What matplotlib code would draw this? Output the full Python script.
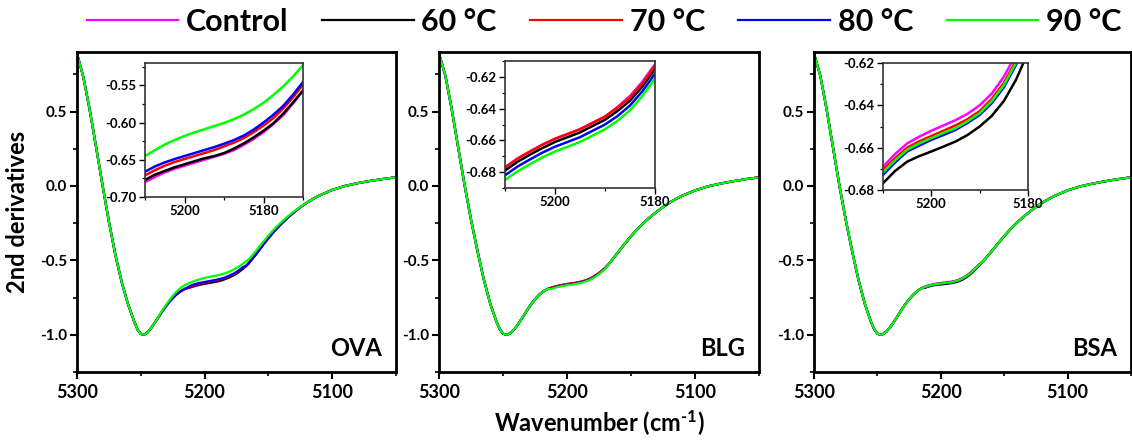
import matplotlib
matplotlib.use("Agg")
import matplotlib.pyplot as plt
from matplotlib.ticker import MultipleLocator, FormatStrFormatter

plt.rcParams['font.family'] = ['Lato', 'DejaVu Sans']
plt.rcParams['font.weight'] = 'bold'
plt.rcParams['axes.unicode_minus'] = False
plt.rcParams['mathtext.fontset'] = 'custom'
plt.rcParams['mathtext.rm'] = 'Lato:bold'
plt.rcParams['mathtext.bf'] = 'Lato:bold'
plt.rcParams['mathtext.it'] = 'Lato:bold'

# ---------------- data ----------------
series_labels = ["Control", "60 \u00b0C", "70 \u00b0C", "80 \u00b0C", "90 \u00b0C"]
series_colors = ["#ff00ff", "#000000", "#ff0000", "#0000ff", "#00ff00"]
panel_names = ["OVA", "BLG", "BSA"]

wn_head = [5300, 5295, 5290, 5285, 5280, 5275, 5270, 5265, 5260, 5255,
           5252.5, 5250, 5247.5, 5245, 5242.5, 5240, 5237.5, 5235, 5232.5, 5230,
           5227.5, 5225, 5222.5, 5220, 5217.5, 5215]
wn_mid = [5212.5, 5210, 5207.5, 5205, 5202.5, 5200, 5197.5, 5195, 5192.5,
          5190, 5187.5, 5185, 5182.5, 5180, 5177.5, 5175, 5172.5, 5170]
wn_tail = [5167.5, 5165, 5160, 5155, 5150, 5145, 5140, 5135, 5130, 5125,
           5120, 5115, 5110, 5100, 5090, 5080, 5070, 5060, 5050]

# OVA
ova_head = [0.89, 0.73, 0.51, 0.26, 0.005, -0.24, -0.46, -0.645, -0.795, -0.915,
            -0.966, -0.994, -0.999, -0.987, -0.962, -0.932, -0.899, -0.866, -0.834, -0.804,
            -0.777, -0.753, -0.732, -0.715, -0.701, -0.690]
ova_head_90 = [0.89, 0.73, 0.51, 0.26, 0.005, -0.24, -0.46, -0.645, -0.795, -0.915,
               -0.966, -0.994, -0.999, -0.987, -0.962, -0.932, -0.897, -0.862, -0.828, -0.796,
               -0.766, -0.739, -0.715, -0.694, -0.677, -0.664]
ova_mid_control = [-0.686, -0.680, -0.673, -0.667, -0.662, -0.658, -0.654, -0.650, -0.646,
                   -0.642, -0.637, -0.630, -0.622, -0.613, -0.602, -0.590, -0.574, -0.557]
ova_mid_60 = [-0.684, -0.677, -0.670, -0.665, -0.660, -0.656, -0.652, -0.648, -0.645,
              -0.641, -0.635, -0.628, -0.620, -0.611, -0.601, -0.588, -0.573, -0.557]
ova_mid_70 = [-0.680, -0.671, -0.664, -0.658, -0.653, -0.649, -0.645, -0.641, -0.637,
              -0.632, -0.627, -0.621, -0.613, -0.604, -0.594, -0.581, -0.566, -0.549]
ova_mid_80 = [-0.677, -0.666, -0.659, -0.6535, -0.649, -0.645, -0.641, -0.637, -0.633,
              -0.6285, -0.6235, -0.6175, -0.6095, -0.600, -0.5895, -0.5775, -0.5625, -0.5455]
ova_mid_90 = [-0.654, -0.645, -0.637, -0.6295, -0.6235, -0.618, -0.6133, -0.609, -0.6048,
              -0.6005, -0.5955, -0.5895, -0.582, -0.5735, -0.563, -0.5515, -0.538, -0.523]
ova_tail = [-0.538, -0.515, -0.462, -0.405, -0.350, -0.300, -0.255, -0.214, -0.177, -0.143,
            -0.113, -0.087, -0.064, -0.027, 0.000, 0.019, 0.034, 0.047, 0.058]
ova_tail_90 = [-0.507, -0.489, -0.440, -0.386, -0.333, -0.286, -0.244, -0.206, -0.172, -0.141,
               -0.112, -0.087, -0.064, -0.027, 0.000, 0.019, 0.034, 0.047, 0.058]

# BLG
blg_head = [0.89, 0.74, 0.513, 0.258, 0.005, -0.226, -0.435, -0.628, -0.790, -0.915,
            -0.962, -0.992, -1.000, -0.993, -0.975, -0.950, -0.920, -0.887, -0.853, -0.820,
            -0.789, -0.762, -0.738, -0.718, -0.703, -0.692]
blg_mid_control = [-0.683, -0.677, -0.6715, -0.667, -0.6627, -0.659, -0.656, -0.653, -0.649,
                   -0.645, -0.639, -0.632, -0.623, -0.612, -0.599, -0.584, -0.567, -0.548]
blg_mid_60 = [-0.685, -0.679, -0.6735, -0.669, -0.6648, -0.661, -0.658, -0.655, -0.651,
              -0.647, -0.6415, -0.635, -0.626, -0.615, -0.602, -0.587, -0.570, -0.551]
blg_mid_70 = [-0.683, -0.677, -0.6715, -0.667, -0.6627, -0.659, -0.656, -0.653, -0.649,
              -0.645, -0.6395, -0.633, -0.624, -0.613, -0.600, -0.585, -0.568, -0.549]
blg_mid_80 = [-0.688, -0.682, -0.6765, -0.672, -0.6677, -0.664, -0.661, -0.658, -0.654,
              -0.650, -0.6447, -0.638, -0.629, -0.618, -0.605, -0.590, -0.572, -0.553]
blg_mid_90 = [-0.691, -0.685, -0.6795, -0.675, -0.6707, -0.667, -0.664, -0.661, -0.657,
              -0.653, -0.6477, -0.641, -0.632, -0.621, -0.608, -0.592, -0.574, -0.555]
blg_tail = [-0.526, -0.500, -0.445, -0.390, -0.338, -0.290, -0.247, -0.209, -0.174, -0.142,
            -0.113, -0.088, -0.066, -0.030, -0.003, 0.016, 0.032, 0.046, 0.058]

# BSA
bsa_head = [0.89, 0.74, 0.513, 0.258, 0.005, -0.226, -0.435, -0.628, -0.790, -0.915,
            -0.962, -0.992, -1.000, -0.993, -0.975, -0.950, -0.920, -0.887, -0.853, -0.820,
            -0.789, -0.762, -0.738, -0.717, -0.699, -0.687]
bsa_mid_control = [-0.6755, -0.669, -0.663, -0.658, -0.6548, -0.652, -0.6495, -0.647, -0.644,
                   -0.640, -0.6345, -0.6265, -0.616, -0.603, -0.587, -0.569, -0.549, -0.528]
bsa_mid_60 = [-0.684, -0.6768, -0.671, -0.6666, -0.664, -0.6618, -0.6595, -0.6571, -0.654,
              -0.650, -0.645, -0.638, -0.628, -0.615, -0.599, -0.580, -0.559, -0.537]
bsa_mid_70 = [-0.678, -0.6705, -0.665, -0.660, -0.657, -0.6545, -0.652, -0.6495, -0.6465,
              -0.6427, -0.637, -0.6295, -0.619, -0.606, -0.590, -0.572, -0.552, -0.531]
bsa_mid_80 = [-0.680, -0.6729, -0.667, -0.6618, -0.659, -0.6563, -0.654, -0.6516, -0.6483,
              -0.6445, -0.639, -0.6315, -0.621, -0.608, -0.592, -0.574, -0.554, -0.533]
bsa_mid_90 = [-0.679, -0.6716, -0.666, -0.661, -0.658, -0.6555, -0.653, -0.6508, -0.6475,
              -0.6437, -0.638, -0.6305, -0.620, -0.607, -0.591, -0.573, -0.553, -0.532]
bsa_tail = [-0.513, -0.490, -0.440, -0.388, -0.337, -0.290, -0.247, -0.209, -0.174, -0.142,
            -0.113, -0.088, -0.066, -0.030, -0.003, 0.016, 0.032, 0.046, 0.058]

wavenumber = wn_head + wn_mid + wn_tail
panels = {
    "OVA": [ova_head + ova_mid_control + ova_tail,
            ova_head + ova_mid_60 + ova_tail,
            ova_head + ova_mid_70 + ova_tail,
            ova_head + ova_mid_80 + ova_tail,
            ova_head_90 + ova_mid_90 + ova_tail_90],
    "BLG": [blg_head + m + blg_tail for m in
            (blg_mid_control, blg_mid_60, blg_mid_70, blg_mid_80, blg_mid_90)],
    "BSA": [bsa_head + m + bsa_tail for m in
            (bsa_mid_control, bsa_mid_60, bsa_mid_70, bsa_mid_80, bsa_mid_90)],
}

inset_ylims = {"OVA": (-0.70, -0.52), "BLG": (-0.69, -0.61), "BSA": (-0.68, -0.62)}
inset_xlims = {"OVA": (5210, 5170), "BLG": (5210, 5180), "BSA": (5210, 5180)}
inset_ymajor = {"OVA": 0.05, "BLG": 0.02, "BSA": 0.02}

# ---------------- layout ----------------
W, H = 1132, 442
fig = plt.figure(figsize=(W / 100, H / 100), dpi=100)

def box(l, t, r, b):
    return [l / W, 1 - b / H, (r - l) / W, (b - t) / H]

main_boxes = [box(77, 52, 396, 372), box(439, 52, 759, 372), box(814, 52, 1131, 372)]
inset_boxes = [box(145, 63, 303, 197), box(505, 61, 655, 188), box(883, 63, 1028, 190)]

handles = []
for i, name in enumerate(panel_names):
    ax = fig.add_axes(main_boxes[i])
    for k, ys in enumerate(panels[name]):
        ln, = ax.plot(wavenumber, ys, color=series_colors[k], lw=1.6, label=series_labels[k])
        if i == 0:
            handles.append(ln)
    ax.set_xlim(5300, 5050)
    ax.set_ylim(-1.25, 0.9)
    ax.xaxis.set_major_locator(MultipleLocator(100))
    ax.xaxis.set_minor_locator(MultipleLocator(50))
    ax.yaxis.set_major_locator(MultipleLocator(0.5))
    ax.yaxis.set_minor_locator(MultipleLocator(0.25))
    ax.yaxis.set_major_formatter(FormatStrFormatter("%.1f"))
    ax.tick_params(which='major', direction='out', length=5, width=1.5)
    ax.tick_params(which='minor', direction='out', length=3, width=1.2)
    ax.tick_params(axis='x', labelsize=13, pad=4)
    ax.tick_params(axis='y', labelsize=11, pad=2)
    for lab in ax.get_xticklabels() + ax.get_yticklabels():
        lab.set_fontweight('bold')
    for s in ax.spines.values():
        s.set_linewidth(2)
    ax.text(0.955, 0.075, name, transform=ax.transAxes, ha='right', va='center',
            fontsize=17, fontweight='bold')
    if i == 0:
        ax.set_ylabel("2nd derivatives", fontsize=17, fontweight='bold', labelpad=8)
    if i == 1:
        ax.set_xlabel(r"Wavenumber (cm$^{\text{-1}}$)", fontsize=17, fontweight='bold', labelpad=5)

    ins = fig.add_axes(inset_boxes[i])
    for k, ys in enumerate(panels[name]):
        ins.plot(wavenumber, ys, color=series_colors[k], lw=1.8)
    ins.set_xlim(*inset_xlims[name])
    ins.set_ylim(*inset_ylims[name])
    ins.xaxis.set_major_locator(MultipleLocator(20))
    ins.xaxis.set_minor_locator(MultipleLocator(10))
    ins.yaxis.set_major_locator(MultipleLocator(inset_ymajor[name]))
    ins.yaxis.set_minor_locator(MultipleLocator(inset_ymajor[name] / 2))
    ins.yaxis.set_major_formatter(FormatStrFormatter("%.2f"))
    ins.tick_params(which='major', direction='out', length=4, width=1.0, labelsize=9.5, pad=2)
    ins.tick_params(which='minor', direction='out', length=2.5, width=0.9)
    for lab in ins.get_xticklabels() + ins.get_yticklabels():
        lab.set_fontweight('bold')
    for s in ins.spines.values():
        s.set_linewidth(1.2)
        s.set_color('#333333')

fig.legend(handles, series_labels, loc='center', bbox_to_anchor=(604 / W, 1 - 22 / H),
           ncol=5, frameon=False, prop={'size': 22, 'weight': 'bold'},
           handlelength=3.0, handletextpad=0.25, columnspacing=1.1, borderaxespad=0)

fig.savefig("out.png", dpi=100)
